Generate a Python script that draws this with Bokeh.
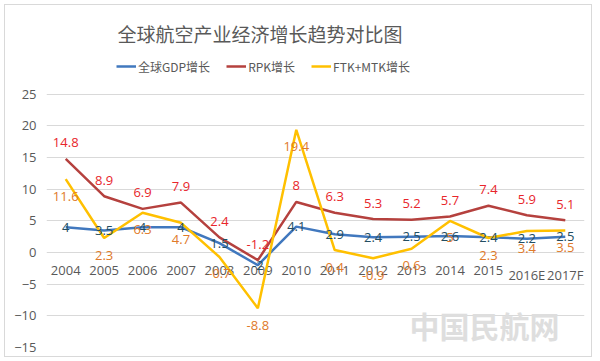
from bokeh.plotting import figure
from bokeh.models import (ColumnDataSource, Legend, LegendItem, Label, FixedTicker,
                          FactorRange, Range1d)
from bokeh.embed import file_html
from bokeh.resources import INLINE
from bokeh.core.properties import value

years = ["2004", "2005", "2006", "2007", "2008", "2009", "2010", "2011",
         "2012", "2013", "2014", "2015", "2016E", "2017F"]
gdp = [4, 3.5, 4, 4, 1.5, -2, 4.1, 2.9, 2.4, 2.5, 2.6, 2.4, 2.2, 2.5]
rpk = [14.8, 8.9, 6.9, 7.9, 2.4, -1.2, 8, 6.3, 5.3, 5.2, 5.7, 7.4, 5.9, 5.1]
ftk = [11.6, 2.3, 6.3, 4.7, -0.7, -8.8, 19.4, 0.4, -0.9, 0.6, 5, 2.3, 3.4, 3.5]
yticks = [-15, -10, -5, 0, 5, 10, 15, 20, 25]

src = ColumnDataSource(dict(
    x=years, gdp=gdp, rpk=rpk, ftk=ftk, zero=[0] * len(years),
    gdp_t=[f"{v:g}" for v in gdp],
    rpk_t=[f"{v:g}" for v in rpk],
    ftk_t=[f"{v:g}" for v in ftk],
))

FONT = "Noto Sans CJK SC"
GRAY = "#595959"

p = figure(width=588, height=353, x_range=FactorRange(*years), y_range=Range1d(-15, 31.45),
           output_backend="svg", toolbar_location=None,
           min_border_left=41, min_border_right=9, min_border_bottom=11, min_border_top=48,
           title="全球航空产业经济增长趋势对比图")
p.margin = (4, 4, 4, 4)
p.title.align = "left"
p.title.offset = 71
p.title.text_font = FONT
p.title.text_font_size = "19px"
p.title.text_font_style = "normal"
p.title.text_color = GRAY
p.title.standoff = 13
p.outline_line_color = None
p.styles = {"border": "1px solid #d9d9d9"}

p.yaxis.ticker = FixedTicker(ticks=yticks)
p.yaxis.axis_line_color = None
p.yaxis.major_tick_line_color = None
p.yaxis.minor_tick_line_color = None
p.yaxis.major_label_text_font = "Open Sans"
p.yaxis.major_label_text_font_size = "13px"
p.yaxis.major_label_text_color = GRAY
p.yaxis.major_label_standoff = 4

p.xaxis.visible = False

p.xgrid.grid_line_color = None
p.ygrid.grid_line_color = "#d9d9d9"
p.ygrid.ticker = FixedTicker(ticks=yticks)

# category labels along the zero line
p.text("x", "zero", text="x", source=src, text_align="center", text_baseline="top",
       y_offset=13, text_color=GRAY, text_font=value("Open Sans"), text_font_size="13px")

l_gdp = p.line("x", "gdp", source=src, line_color="#4178BE", line_width=2.5)
l_rpk = p.line("x", "rpk", source=src, line_color="#B5413E", line_width=2.5)
l_ftk = p.line("x", "ftk", source=src, line_color="#FFC000", line_width=2.5)

p.text("x", "rpk", text="rpk_t", source=src, text_align="center", text_baseline="middle",
       y_offset=-16, text_color="#E8262B", text_font=value("Open Sans"), text_font_size="13px")
p.text("x", "gdp", text="gdp_t", source=src, text_align="center", text_baseline="middle",
       y_offset=0, text_color="#234E62", text_font=value("Open Sans"), text_font_size="13px")
p.text("x", "ftk", text="ftk_t", source=src, text_align="center", text_baseline="middle",
       y_offset=17, text_color="#E07A2A", text_font=value("Open Sans"), text_font_size="13px")

legend = Legend(items=[LegendItem(label="全球GDP增长", renderers=[l_gdp]),
                       LegendItem(label="RPK增长", renderers=[l_rpk]),
                       LegendItem(label="FTK+MTK增长", renderers=[l_ftk])],
                orientation="horizontal", location=(70, 271),
                label_text_font=FONT, label_text_font_size="12px", label_text_color=GRAY,
                glyph_width=20, label_standoff=2, spacing=16, padding=3, margin=0,
                border_line_color=None, background_fill_alpha=0)
p.add_layout(legend)

p.add_layout(Label(x=438, y=23, x_units="screen", y_units="screen", text="中国民航网",
                   text_align="center", text_baseline="middle", text_font=FONT,
                   text_font_size="30px", text_font_style="bold", text_color="#dedede"))

open("out.html", "w").write(file_html(p, INLINE))
